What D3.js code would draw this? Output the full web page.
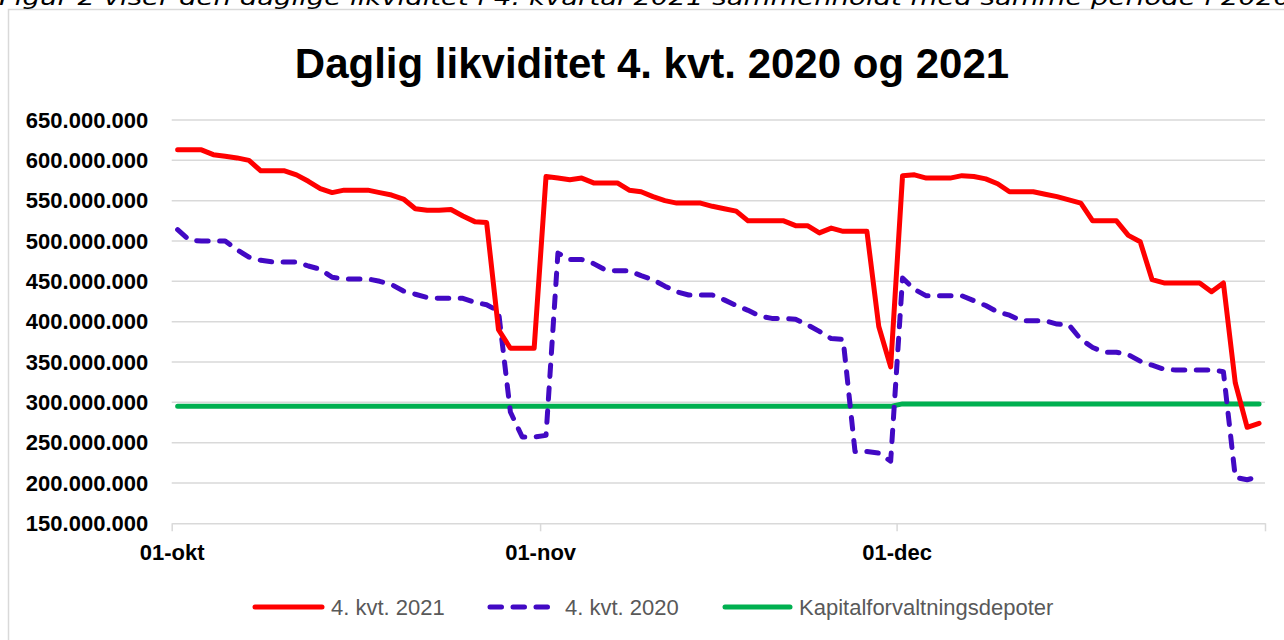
<!DOCTYPE html>
<html><head><meta charset="utf-8">
<script src="https://cdn.jsdelivr.net/npm/d3@7/dist/d3.min.js"></script>
<style>html,body{margin:0;padding:0;background:#fff;overflow:hidden}</style>
</head><body>
<svg id="chart" width="1284" height="640"></svg>
<script>
// ---- DATA (values in millions of kr., one per calendar day 1 Oct - 31 Dec) ----
const captionText = "Figur 2 viser den daglige likviditet i 4. kvartal 2021 sammenholdt med samme periode i 2020";
const titleText = "Daglig likviditet 4. kvt. 2020 og 2021";
const seriesNames = ["4. kvt. 2021", "4. kvt. 2020", "Kapitalforvaltningsdepoter"];
const xTickLabels = ["01-okt", "01-nov", "01-dec"];
const yTickValues = [150, 200, 250, 300, 350, 400, 450, 500, 550, 600, 650];

const kvt2021 = [
  613,613,613,607,605,603,600,587,587,587,
  582,574,565,560,563,563,563,560,557,552,
  540,538,538,539,531,524,523,390,367,367,
  367,580,578,576,578,572,572,572,563,561,
  555,550,547,547,547,543,540,537,525,525,
  525,525,519,519,510,516,512,512,512,394,
  344,581,582,578,578,578,581,580,577,571,
  561,561,561,558,555,551,547,525,525,525,
  507,499,452,448,448,448,448,437,448,324,
  269,274
];
const kvt2020 = [
  514,501,500,500,500,489,480,476,474,474,
  474,469,465,455,453,453,453,450,446,438,
  434,430,429,429,429,424,421,413,288,257,
  257,259,485,477,477,472,464,463,463,457,
  452,444,437,433,433,433,427,420,414,407,
  404,404,403,396,388,379,378,239,239,237,
  227,454,440,432,432,432,432,426,420,412,
  408,401,401,401,397,396,378,368,362,362,
  359,351,346,341,340,340,340,340,338,207,
  204,208
];
const depoter = [
  295,295,295,295,295,295,295,295,295,295,
  295,295,295,295,295,295,295,295,295,295,
  295,295,295,295,295,295,295,295,295,295,
  295,295,295,295,295,295,295,295,295,295,
  295,295,295,295,295,295,295,295,295,295,
  295,295,295,295,295,295,295,295,295,295,
  295,298,298,298,298,298,298,298,298,298,
  298,298,298,298,298,298,298,298,298,298,
  298,298,298,298,298,298,298,298,298,298,
  298,298
];
const colors = ["#FF0000", "#4209C4", "#00B050"];

// ---- CHART ----
const svg = d3.select("#chart");
const days = d3.utcDay.range(new Date(Date.UTC(2021, 9, 1)), new Date(Date.UTC(2022, 0, 1)));
const monthStarts = [new Date(Date.UTC(2021, 9, 1)), new Date(Date.UTC(2021, 10, 1)),
                     new Date(Date.UTC(2021, 11, 1)), new Date(Date.UTC(2022, 0, 1))];

const plot = {left: 171.7, right: 1265, top: 120, bottom: 523.3};
const x = d3.scaleUtc().domain([monthStarts[0], monthStarts[3]]).range([plot.left, plot.right]);
const y = d3.scaleLinear().domain([150, 650]).range([plot.bottom, plot.top]);
const xc = d => x(d3.utcHour.offset(d, 12));

const locale = d3.formatLocale({decimal: ",", thousands: ".", grouping: [3], currency: ["", " kr."]});
const fmt = locale.format(",.0f");

// outer border
svg.append("rect").attr("x", 8.5).attr("y", 9.5).attr("width", 1300).attr("height", 700)
  .attr("fill", "#fff").attr("stroke", "#D9D9D9").attr("stroke-width", 1.5);

// caption (clipped at top)
svg.append("text").attr("x", -1).attr("y", 5)
  .attr("font-family", "DejaVu Sans, Verdana, sans-serif").attr("font-style", "italic")
  .attr("font-size", 22).attr("fill", "#000")
  .attr("textLength", 1292).attr("lengthAdjust", "spacingAndGlyphs")
  .text(captionText);

// title
svg.append("text").attr("x", 652).attr("y", 78).attr("text-anchor", "middle")
  .attr("font-family", "Liberation Sans, Arial, sans-serif").attr("font-weight", "bold")
  .attr("font-size", 42).attr("fill", "#000").text(titleText);

// gridlines
svg.append("g").selectAll("line").data(yTickValues.filter(v => v > 150)).join("line")
  .attr("x1", plot.left).attr("x2", plot.right)
  .attr("y1", d => y(d)).attr("y2", d => y(d))
  .attr("stroke", "#D9D9D9").attr("stroke-width", 1.5);

// y axis
const yAxis = svg.append("g").attr("transform", `translate(${plot.left},0)`)
  .call(d3.axisLeft(y).tickValues(yTickValues).tickSize(0).tickPadding(23.5)
        .tickFormat(d => fmt(d * 1e6)));
yAxis.select(".domain").remove();
yAxis.selectAll("text").attr("font-family", "Liberation Sans, Arial, sans-serif")
  .attr("font-weight", "bold").attr("font-size", 22).attr("fill", "#000");

// x axis
const xAxis = svg.append("g").attr("transform", `translate(0,${plot.bottom})`)
  .call(d3.axisBottom(x).tickValues(monthStarts).tickSize(8).tickPadding(13)
        .tickSizeOuter(0).tickFormat((d, i) => xTickLabels[i] || ""));
xAxis.select(".domain").attr("stroke", "#D9D9D9").attr("stroke-width", 1.5);
xAxis.selectAll(".tick line").attr("stroke", "#D9D9D9").attr("stroke-width", 1.5);
xAxis.selectAll("text").attr("font-family", "Liberation Sans, Arial, sans-serif")
  .attr("font-weight", "bold").attr("font-size", 22).attr("fill", "#000");

// lines
const line = d3.line().x((d, i) => xc(days[i])).y(d => y(d));
const seriesData = [kvt2021, kvt2020, depoter];
const dashes = [null, "11.5,11.5", null];
const order = [2, 1, 0];
order.forEach(k => {
  svg.append("path").datum(seriesData[k]).attr("d", line)
    .attr("fill", "none").attr("stroke", colors[k]).attr("stroke-width", 5)
    .attr("stroke-linejoin", "round").attr("stroke-linecap", "round")
    .attr("stroke-dasharray", dashes[k]);
});

// legend
const legendY = 607;
const legendItems = [
  {x1: 255, x2: 322, tx: 331},
  {x1: 490, x2: 551, tx: 565},
  {x1: 725, x2: 790, tx: 799}
];
legendItems.forEach((it, k) => {
  svg.append("line").attr("x1", it.x1).attr("x2", it.x2).attr("y1", legendY).attr("y2", legendY)
    .attr("stroke", colors[k]).attr("stroke-width", 5).attr("stroke-linecap", "round")
    .attr("stroke-dasharray", dashes[k]);
  svg.append("text").attr("x", it.tx).attr("y", legendY).attr("dy", "0.35em")
    .attr("font-family", "Liberation Sans, Arial, sans-serif").attr("font-size", 22)
    .attr("fill", "#595959").text(seriesNames[k]);
});
</script>
</body></html>
